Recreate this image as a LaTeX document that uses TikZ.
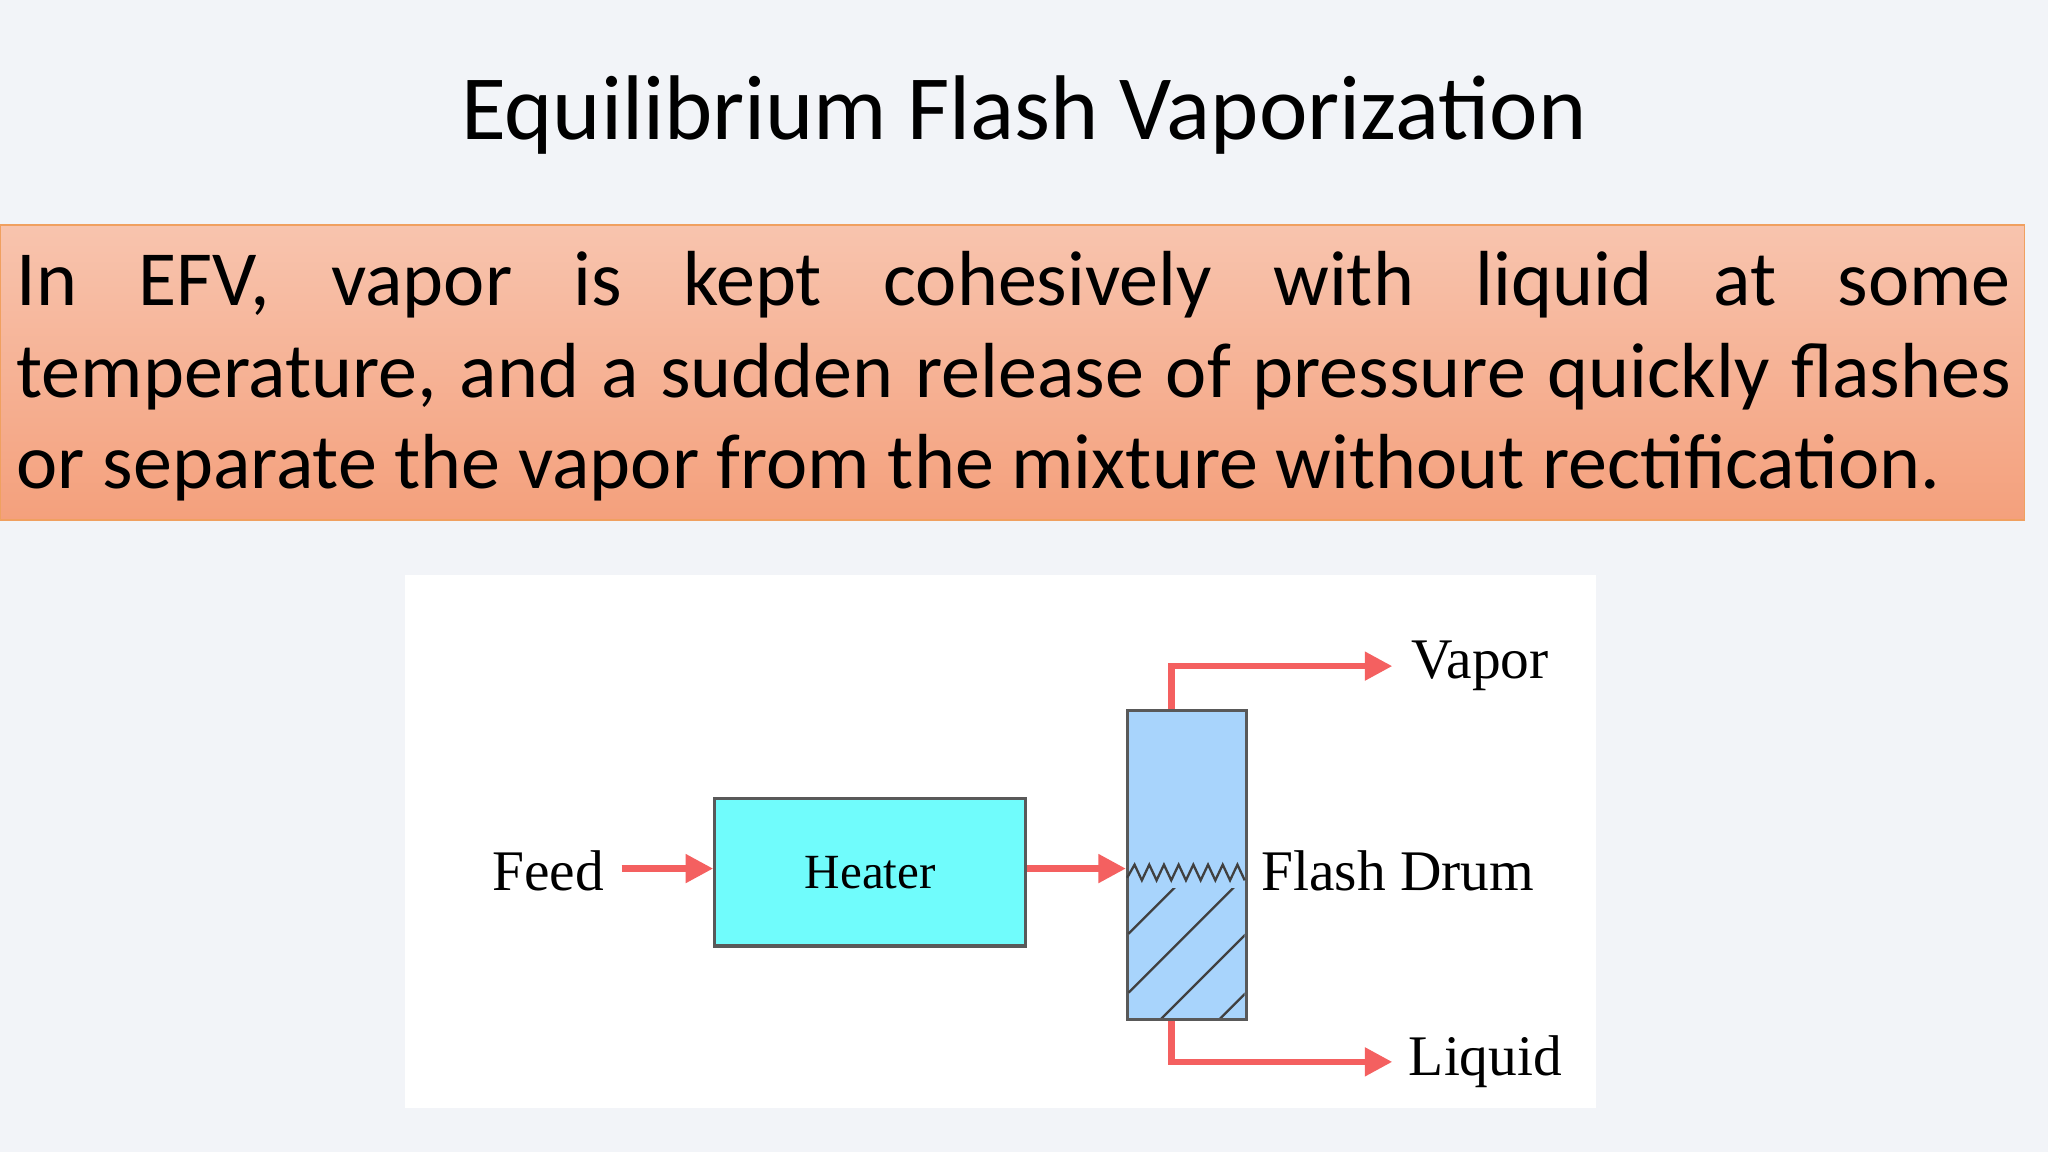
\documentclass[tikz,border=0pt]{standalone}
\usepackage{fontspec}
\setmainfont{Carlito}
\newfontfamily\tms{Liberation Serif}
\usetikzlibrary{arrows.meta}
\definecolor{bgc}{HTML}{F2F4F8}
\definecolor{boxtop}{HTML}{F8C4AE}
\definecolor{boxbot}{HTML}{F4A07C}
\definecolor{boxline}{HTML}{F0A060}
\definecolor{flow}{HTML}{F46060}
\definecolor{heat}{HTML}{70FCFC}
\definecolor{drumc}{HTML}{A8D4FC}
\tikzset{
  flowline/.style={draw=flow,line width=1.4pt,-{Triangle[length=6pt,width=6pt]}},
  unit/.style={draw=black!65,line width=0.7pt},
  lbl/.style={font=\tms\fontsize{12.5}{14}\selectfont,inner sep=0pt},
}
\begin{document}
\begin{tikzpicture}[x=0.01cm,y=-0.01cm]
\fill[bgc] (0,0) rectangle (1568,882);
\useasboundingbox (0,0) rectangle (1568,882);
\node[font=\fontsize{20}{24}\selectfont] (title) at (784,88) {Equilibrium Flash Vaporization};
\shade[top color=boxtop,bottom color=boxbot,draw=boxline] (0,172) rectangle (1550,398);
\node[anchor=north west,inner sep=0pt,text width=15.26cm,align=justify,font=\fontsize{17}{19.9}\selectfont] (txt) at (12,192)
{\hyphenpenalty=10000 In EFV, vapor is kept cohesively with liquid at some\linebreak temperature, and a sudden release of pressure quickly flashes\linebreak or separate the vapor from the mixture without rectification.};
\fill[white] (310,440) rectangle (1222,848);
\node[unit,fill=heat,minimum width=2.38cm,minimum height=1.13cm,anchor=north west,inner sep=0pt] (heater) at (546,610) {};
\node[font=\tms\fontsize{10.7}{12}\selectfont] at (heater.center) {Heater};
\node[unit,fill=drumc,minimum width=0.91cm,minimum height=2.36cm,anchor=north west,inner sep=0pt] (drum) at (862,543) {};
\begin{scope}
\clip (862,680) rectangle (953,779);
\foreach \s in {715,760,805,850,895}
  \draw[black!75,line width=0.5pt] (864,\s) -- (964,\s-100);
\end{scope}
\draw[black!75,line width=0.5pt] (863,672) \foreach \i in {1,...,8}{ -- (863+\i*11.25-5.6,662) -- (863+\i*11.25,674)};
\node[lbl,anchor=east] (feed) at (463,667) {Feed};
\coordinate (feedend) at (476,665);
\node[lbl,anchor=west] (fd) at (965,667) {Flash Drum};
\node[lbl,anchor=west] (vap) at (1080,510) {Vapor};
\node[lbl,anchor=west] (liq) at (1078,813) {Liquid};
\draw[flowline] (feedend) -- (heater.west |- feedend);
\draw[flowline] (heater.east |- feedend) -- (drum.west |- feedend);
\draw[flowline] ([xshift=0.35cm]drum.north west) |- ([xshift=-0.14cm]vap.west);
\draw[flowline] ([xshift=0.35cm]drum.south west) |- ([xshift=-0.12cm]liq.west);
\end{tikzpicture}
\end{document}
